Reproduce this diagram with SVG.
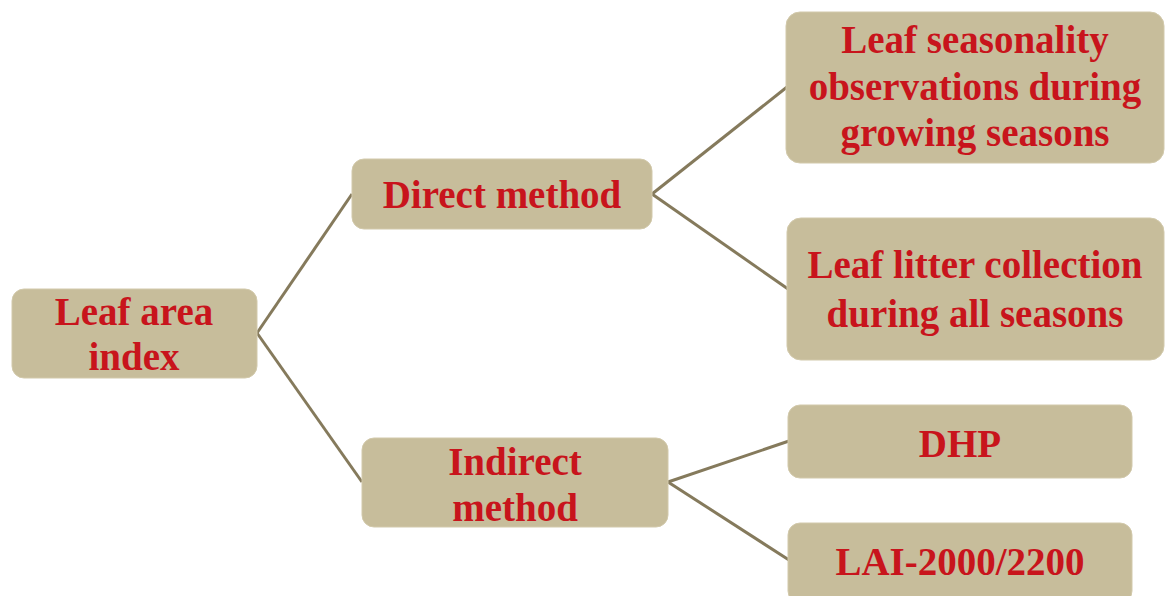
<svg xmlns="http://www.w3.org/2000/svg" width="1166" height="596" viewBox="0 0 1166 596">
<style>
.box{fill:#c7bd9b;stroke:#d2c9ab;stroke-width:1}
.t{font-family:"Liberation Serif","Times New Roman",serif;font-weight:bold;font-size:39px;fill:#c8141c;text-anchor:middle}
.c{stroke:#857a5c;stroke-width:3;fill:none}
</style>
<rect width="1166" height="596" fill="#ffffff"/>
<g id="connectors">
<line class="c" x1="257" y1="333" x2="352" y2="194"/>
<line class="c" x1="257" y1="333" x2="362" y2="482"/>
<line class="c" x1="652" y1="194" x2="787" y2="87"/>
<line class="c" x1="652" y1="194" x2="788" y2="289"/>
<line class="c" x1="668" y1="482" x2="789" y2="441"/>
<line class="c" x1="668" y1="482" x2="789" y2="560"/>
</g>
<g id="lai">
<rect class="box" x="12" y="289" width="245" height="89" rx="12"/>
<text class="t" x="134" y="325">Leaf area</text>
<text class="t" x="134" y="370">index</text>
</g>
<g id="direct">
<rect class="box" x="352" y="159" width="300" height="70" rx="12"/>
<text class="t" x="502" y="208">Direct method</text>
</g>
<g id="indirect">
<rect class="box" x="362" y="438" width="306" height="89" rx="12"/>
<text class="t" x="515" y="475">Indirect</text>
<text class="t" x="515" y="521">method</text>
</g>
<g id="seasonality">
<rect class="box" x="786" y="12" width="378" height="151" rx="14"/>
<text class="t" x="975" y="53">Leaf seasonality</text>
<text class="t" x="975" y="100">observations during</text>
<text class="t" x="975" y="146">growing seasons</text>
</g>
<g id="litter">
<rect class="box" x="787" y="218" width="377" height="142" rx="14"/>
<text class="t" x="975" y="278">Leaf litter collection</text>
<text class="t" x="975" y="327">during all seasons</text>
</g>
<g id="dhp">
<rect class="box" x="788" y="405" width="344" height="73" rx="12"/>
<text class="t" x="960" y="457">DHP</text>
</g>
<g id="lai2000">
<rect class="box" x="788" y="523" width="344" height="80" rx="12"/>
<text class="t" x="960" y="575">LAI-2000/2200</text>
</g>
</svg>
